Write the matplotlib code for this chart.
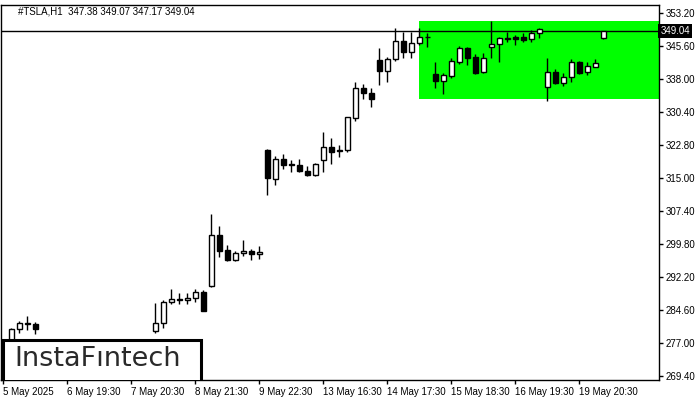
import matplotlib
matplotlib.use("Agg")
import matplotlib.pyplot as plt
from matplotlib.patches import Rectangle

plt.rcParams['font.family'] = ['Liberation Sans', 'DejaVu Sans']

# bar number on the chart (bars 5..18 sit behind the logo box)
bars = [1, 2, 3, 4] + list(range(19, 76))
opens = [277.6, 280.2, 281.5, 281.4,
         279.7, 281.6, 286.4, 286.9, 286.9, 287.3, 288.7, 290.1, 301.95, 298.4, 296.2, 297.7, 298.3, 297.5,
         321.6, 314.8, 319.5, 318.3, 318.1, 316.7, 315.9, 319.2, 322.3, 321.4, 321.5, 329.0, 335.8, 334.7,
         342.35, 339.9, 342.5, 346.8, 344.3, 346.35, 347.6,
         339.05, 337.6, 338.7, 341.95, 345.05, 342.95, 339.5, 345.3, 345.95, 347.3, 347.7, 347.7, 347.1, 348.5,
         336.05, 339.5, 337.1, 338.35, 341.8, 339.5, 340.8, 347.38]
highs = [280.4, 282.2, 283.3, 281.9,
         286.3, 286.95, 289.5, 288.5, 288.5, 289.4, 289.2, 306.8, 304.0, 299.6, 298.3, 300.8, 298.7, 299.4,
         321.7, 320.2, 320.65, 319.3, 319.5, 317.9, 318.6, 325.7, 324.35, 322.7, 329.3, 337.3, 336.8, 335.8,
         345.1, 343.0, 349.7, 348.9, 348.9, 349.7, 348.5,
         341.8, 339.3, 342.7, 345.65, 345.3, 343.7, 343.9, 351.35, 347.6, 348.9, 348.1, 348.5, 349.3, 349.7,
         342.75, 340.3, 339.3, 342.6, 342.1, 341.8, 342.5, 349.07]
lows = [277.3, 279.3, 280.0, 279.0,
        279.3, 280.4, 286.1, 285.95, 286.0, 286.6, 284.3, 289.9, 296.9, 295.95, 295.95, 297.2, 296.2, 296.5,
        311.2, 313.5, 317.2, 316.6, 316.5, 315.65, 315.65, 316.6, 318.4, 320.0, 321.0, 328.3, 333.4, 331.6,
        336.65, 337.2, 342.2, 342.9, 342.9, 345.8, 345.3,
        335.95, 334.4, 338.1, 341.4, 341.2, 339.1, 339.4, 342.75, 341.95, 346.6, 345.8, 346.6, 346.6, 347.5,
        332.9, 336.7, 336.35, 337.35, 339.05, 338.9, 340.8, 347.17]
closes = [280.2, 281.7, 281.7, 280.2,
          281.6, 286.4, 287.2, 287.1, 287.4, 288.7, 284.3, 301.95, 298.3, 296.2, 297.7, 298.3, 297.5, 298.0,
          315.0, 319.4, 318.2, 318.0, 316.7, 315.9, 318.35, 322.2, 321.2, 321.6, 329.2, 335.8, 334.7, 333.4,
          339.9, 342.5, 346.8, 344.3, 346.35, 347.6, 347.7,
          337.6, 338.8, 342.05, 345.05, 342.9, 339.4, 342.7, 346.0, 347.35, 347.4, 347.2, 346.95, 348.5, 349.4,
          339.5, 336.95, 338.4, 341.8, 339.4, 340.95, 341.6, 349.04]

last_price = 349.04
title = "#TSLA,H1  347.38 349.07 347.17 349.04"
zone_bar = 51.96
zone_low, zone_high = 333.28, 351.35

ytick_vals = [353.20, 345.60, 338.00, 330.40, 322.80, 315.00, 307.40, 299.80, 292.20, 284.60, 277.00, 269.40]
xtick_bars = [0, 8, 16, 24, 32, 40, 48, 56, 64, 72]
xtick_labels = ["5 May 2025", "6 May 19:30", "7 May 20:30", "8 May 21:30", "9 May 22:30",
                "13 May 16:30", "14 May 17:30", "15 May 18:30", "16 May 19:30", "19 May 20:30"]

W, H = 700, 400
fig = plt.figure(figsize=(7, 4), dpi=100)
ax = fig.add_axes([1 / W, 20 / H, 658 / W, 375 / H])
xmin = -0.2875
xmax = xmin + 658 / 8
ax.set_xlim(xmin, xmax)
ax.set_ylim(268.48, 355.05)

ax.add_patch(Rectangle((zone_bar, zone_low), xmax - zone_bar, zone_high - zone_low,
                       facecolor='#00ff00', edgecolor='none', zorder=0))
ax.axhline(last_price, color='black', lw=1, zorder=1)

bw = 0.6
for b, o, h, l, c in zip(bars, opens, highs, lows, closes):
    ax.vlines(b, l, h, color='black', lw=1, zorder=2)
    lo, hi = min(o, c), max(o, c)
    fc = 'white' if c >= o else 'black'
    ax.add_patch(Rectangle((b - bw / 2, lo), bw, max(hi - lo, 0.05), facecolor=fc,
                           edgecolor='black', lw=1, zorder=3))

# logo box
ax.add_patch(Rectangle((xmin + 0.2, 0), 24.8, 277.7, facecolor='white', edgecolor='black',
                       lw=2.2, zorder=5))
fig.text(14 / W, 1 - 359 / H, "InstaF\u0131ntech", family=['DejaVu Sans'], fontsize=19.5,
         color='#2a2a2a', va='center', ha='left', zorder=6)

ax.yaxis.tick_right()
ax.set_yticks(ytick_vals)
ax.set_yticklabels(["%.2f" % v for v in ytick_vals])
ax.set_xticks(xtick_bars)
ax.set_xticklabels(xtick_labels)
for t in ax.get_xticklabels():
    t.set_ha('left')
ax.tick_params(axis='both', length=3, width=1, color='black', labelsize=7, pad=2)
for s in ax.spines.values():
    s.set_color('black')
    s.set_linewidth(1)

ax.text(1.002, last_price, "%.2f" % last_price, transform=ax.get_yaxis_transform(),
        color='white', fontsize=7, va='center', ha='left', zorder=7,
        bbox=dict(facecolor='black', edgecolor='none', pad=1.5), clip_on=False)

fig.text(18 / W, 1 - 11 / H, title, fontsize=7, color='black', va='center', ha='left')

fig.savefig("out.png", dpi=100)
